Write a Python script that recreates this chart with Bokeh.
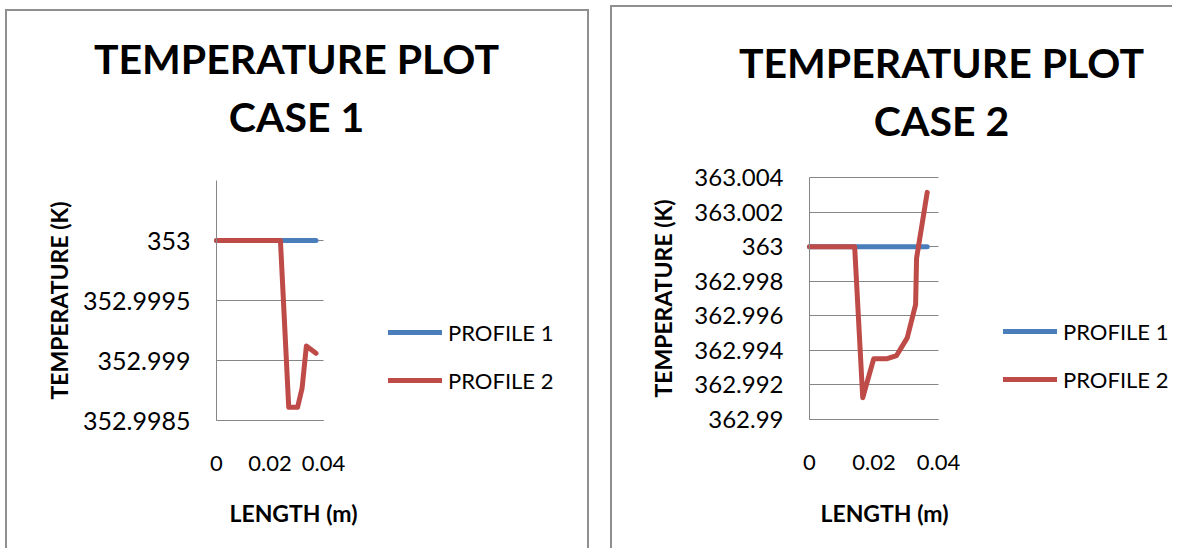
import math
from bokeh.plotting import figure
from bokeh.models import FixedTicker, Range1d, Label, Legend, LegendItem
from bokeh.layouts import row
from bokeh.embed import file_html
from bokeh.resources import INLINE

# ---------------- data ----------------
case1_x_p1 = [0.0, 0.0372]
case1_y_p1 = [353.0, 353.0]
case1_x_p2 = [0.0, 0.0239, 0.0270, 0.0303, 0.0320, 0.0336, 0.0372]
case1_y_p2 = [353.0, 353.0, 352.99861, 352.99861, 352.99877, 352.99912, 352.99906]

case2_x_p1 = [0.0, 0.0365]
case2_y_p1 = [363.0, 363.0]
case2_x_p2 = [0.0, 0.0140, 0.0165, 0.0199, 0.0241, 0.0270, 0.0303, 0.0329, 0.0332, 0.0365]
case2_y_p2 = [363.0, 363.0, 362.99126, 362.99351, 362.99352, 362.99370, 362.99472,
              362.99664, 362.99933, 363.00314]

x_ticks = [0.0, 0.02, 0.04]
x_tick_labels = ["0", "0.02", "0.04"]
case1_y_ticks = [352.9985, 352.999, 352.9995, 353.0]
case1_y_tick_labels = ["352.9985", "352.999", "352.9995", "353"]
case1_y_bounds = [352.9985, 353.0005]
case2_y_ticks = [362.99, 362.992, 362.994, 362.996, 362.998, 363.0, 363.002, 363.004]
case2_y_tick_labels = ["362.99", "362.992", "362.994", "362.996", "362.998", "363",
                       "363.002", "363.004"]
case2_y_bounds = [362.99, 363.004]
x_bounds = [0.0, 0.04]

series_names = ["PROFILE 1", "PROFILE 2"]
titles = [["TEMPERATURE PLOT", "CASE 1"], ["TEMPERATURE PLOT", "CASE 2"]]
x_title = "LENGTH (m)"
y_title = "TEMPERATURE (K)"

FONT = "Lato"
BLUE = "#4a7ebb"
RED = "#be4b48"
GRID = "#868686"
BORDER = "#8f8f8f"


def make_panel(page_box, plot_box, y_bounds, y_ticks, y_labels,
               xp1, yp1, xp2, yp2, title_lines, title_pts, xtitle_pt, ytitle_pt,
               legend_pt, ytick_size, right_border):
    # page_box: (left, top, width, height) of the whole panel on the page
    # plot_box: (left, top, right, bottom) of the plotting area on the page
    L, T, W, H = page_box
    pl, pt, pr, pb = plot_box
    fl, ft, fr, fb = pl - L, pt - T, pr - L, pb - T
    kx = (x_bounds[1] - x_bounds[0]) / (fr - fl)
    ky = (y_bounds[1] - y_bounds[0]) / (fb - ft)
    xr = Range1d(x_bounds[0] - fl * kx, x_bounds[1] + (W - fr) * kx)
    yr = Range1d(y_bounds[0] - (H - fb) * ky, y_bounds[1] + ft * ky)

    def scr(px, py):
        return px - L, (T + H) - py

    p = figure(width=W, height=H, output_backend="svg", toolbar_location=None,
               x_range=xr, y_range=yr, min_border=0)
    p.border_fill_color = None
    p.background_fill_color = None
    p.outline_line_color = None
    shadow = f"inset 2px 2px 0 0 {BORDER}"
    if right_border:
        shadow += f", inset -2px 0 0 0 {BORDER}"
    p.styles = {"box-shadow": shadow}

    # axes pinned to the plotting area
    xa, ya = p.xaxis[0], p.yaxis[0]
    xa.fixed_location = y_bounds[0]
    ya.fixed_location = x_bounds[0]
    xa.bounds = tuple(x_bounds)
    ya.bounds = tuple(y_bounds)
    xa.ticker = FixedTicker(ticks=x_ticks)
    xa.major_label_overrides = dict(zip(x_ticks, x_tick_labels))
    ya.ticker = FixedTicker(ticks=y_ticks)
    ya.major_label_overrides = dict(zip(y_ticks, y_labels))
    for ax in (xa, ya):
        ax.axis_line_color = GRID
        ax.axis_line_width = 1
        ax.major_tick_line_color = None
        ax.minor_tick_line_color = None
        ax.major_tick_out = 0
        ax.major_tick_in = 0
        ax.major_label_text_font = FONT
        ax.major_label_text_color = "black"
    xa.major_label_text_font_size = "22px"
    ya.major_label_text_font_size = ytick_size
    xa.major_label_standoff = 35
    ya.major_label_standoff = 26

    p.xgrid.visible = False
    g = p.ygrid[0]
    g.grid_line_color = GRID
    g.grid_line_width = 1
    g.ticker = FixedTicker(ticks=y_ticks)
    try:
        g.cross_bounds = tuple(x_bounds)
    except AttributeError:
        g.visible = False
        p.segment(x0=[x_bounds[0]] * len(y_ticks), x1=[x_bounds[1]] * len(y_ticks),
                  y0=y_ticks, y1=y_ticks, line_color=GRID, line_width=1)

    r1 = p.line(xp1, yp1, line_color=BLUE, line_width=5,
                line_cap="round", line_join="round")
    r2 = p.line(xp2, yp2, line_color=RED, line_width=5,
                line_cap="round", line_join="round")

    lx, ly = scr(*legend_pt)
    legend = Legend(items=[LegendItem(label=series_names[0], renderers=[r1]),
                           LegendItem(label=series_names[1], renderers=[r2])],
                    location=(lx, ly), orientation="vertical",
                    glyph_width=54, glyph_height=30, label_height=30,
                    label_standoff=6, spacing=18, padding=0, margin=0,
                    border_line_color=None, background_fill_alpha=0,
                    label_text_font=FONT, label_text_font_size="22px",
                    label_text_color="black")
    p.add_layout(legend)

    for text, pt_ in zip(title_lines, title_pts):
        x, y = scr(*pt_)
        p.add_layout(Label(x=x, y=y, x_units="screen", y_units="screen",
                           text=text, text_font=FONT, text_font_style="bold",
                           text_font_size="41px", text_align="center",
                           text_baseline="middle", text_color="black"))
    x, y = scr(*xtitle_pt)
    p.add_layout(Label(x=x, y=y, x_units="screen", y_units="screen",
                       text=x_title, text_font=FONT, text_font_style="bold",
                       text_font_size="23px", text_align="center",
                       text_baseline="middle", text_color="black"))
    x, y = scr(*ytitle_pt)
    p.add_layout(Label(x=x, y=y, x_units="screen", y_units="screen",
                       text=y_title, text_font=FONT, text_font_style="bold",
                       text_font_size="23px", text_align="center",
                       text_baseline="middle", text_color="black",
                       angle=math.pi / 2))
    return p


p1 = make_panel((5, 9, 584, 539), (216, 180, 323, 420),
                case1_y_bounds, case1_y_ticks, case1_y_tick_labels,
                case1_x_p1, case1_y_p1, case1_x_p2, case1_y_p2,
                titles[0], [(296, 58), (296, 116)], (293, 512), (58, 300),
                (388, 395), "25px", True)
p1.margin = (9, 0, 0, 5)

p2 = make_panel((610, 5, 562, 543), (809, 177, 938, 419),
                case2_y_bounds, case2_y_ticks, case2_y_tick_labels,
                case2_x_p1, case2_y_p1, case2_x_p2, case2_y_p2,
                titles[1], [(941, 62), (941, 120)], (884, 512), (662, 298),
                (1003, 394), "24px", False)
p2.margin = (5, 0, 0, 21)

layout = row(p1, p2)

open("out.html", "w").write(file_html(layout, INLINE))
